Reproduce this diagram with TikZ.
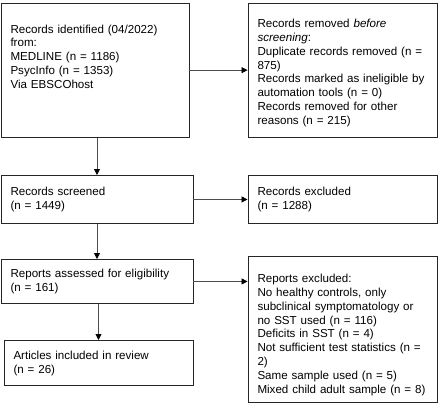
\documentclass[tikz,border=0pt]{standalone}
\usepackage{fontspec}
\setmainfont{Liberation Sans}
\usetikzlibrary{arrows.meta}
\newcommand\Tst[1]{\rule{0pt}{#1}}
\newcommand\Bst[1]{\rule[-#1]{0pt}{0pt}}
\begin{document}
\begin{tikzpicture}[x=1pt,y=-1pt,
  box/.style={draw=black!85,line width=0.9pt,rectangle,inner xsep=9.5pt,inner ysep=0pt,
    anchor=north,align=left,font=\fontsize{11.6pt}{13.8pt}\selectfont},
  conn/.style={draw=black!70,line width=0.8pt,-{Triangle[length=6pt,width=6pt,black]}}]
\useasboundingbox (0,0) rectangle (440,413);
\node[box,text width=169pt] (ident) at (95,2.7)
  {\Tst{30pt}Records identified (04/2022)\\from:\\MEDLINE (n = 1186)\\PsycInfo (n = 1353)\\Via EBSCOhost\Bst{48.8pt}};
\node[box,text width=170pt] (removed) at (342.5,2.7)
  {\Tst{24.6pt}Records removed \emph{before}\\\emph{screening}:\\Duplicate records removed (n =\\875)\\Records marked as ineligible by\\automation tools (n = 0)\\Records removed for other\\reasons (n = 215)\Bst{12.8pt}};
\node[box,text width=173pt] (screen) at (97,175)
  {\Tst{20pt}Records screened\\(n = 1449)\Bst{14.2pt}};
\node[box,text width=170pt] (excl) at (342.5,175)
  {\Tst{20pt}Records excluded\\(n = 1288)\Bst{14.2pt}};
\node[box,text width=173pt] (assess) at (97,259)
  {\Tst{18pt}Reports assessed for eligibility\\(n = 161)\Bst{12.2pt}};
\node[box,text width=170pt] (repexcl) at (342.5,256)
  {\Tst{26.3pt}Reports excluded:\\No healthy controls, only\\subclinical symptomatology or\\no SST used (n = 116)\\Deficits in SST (n = 4)\\Not sufficient test statistics (n =\\2)\\Same sample used (n = 5)\\Mixed child adult sample (n = 8)\Bst{9pt}};
\node[box,text width=170pt] (incl) at (98.5,340)
  {\Tst{19pt}Articles included in review\\(n = 26)\Bst{12.2pt}};
\draw[conn] (ident.south -| screen) -- (screen.north);
\draw[conn] (screen.south) -- (assess.north);
\draw[conn] (assess.south -| incl) -- (incl.north);
\draw[conn] (ident.east) -- (ident.east -| removed.west);
\draw[conn] (screen.east) -- (excl.west);
\draw[conn] (assess.east) -- (assess.east -| repexcl.west);
\end{tikzpicture}
\end{document}
